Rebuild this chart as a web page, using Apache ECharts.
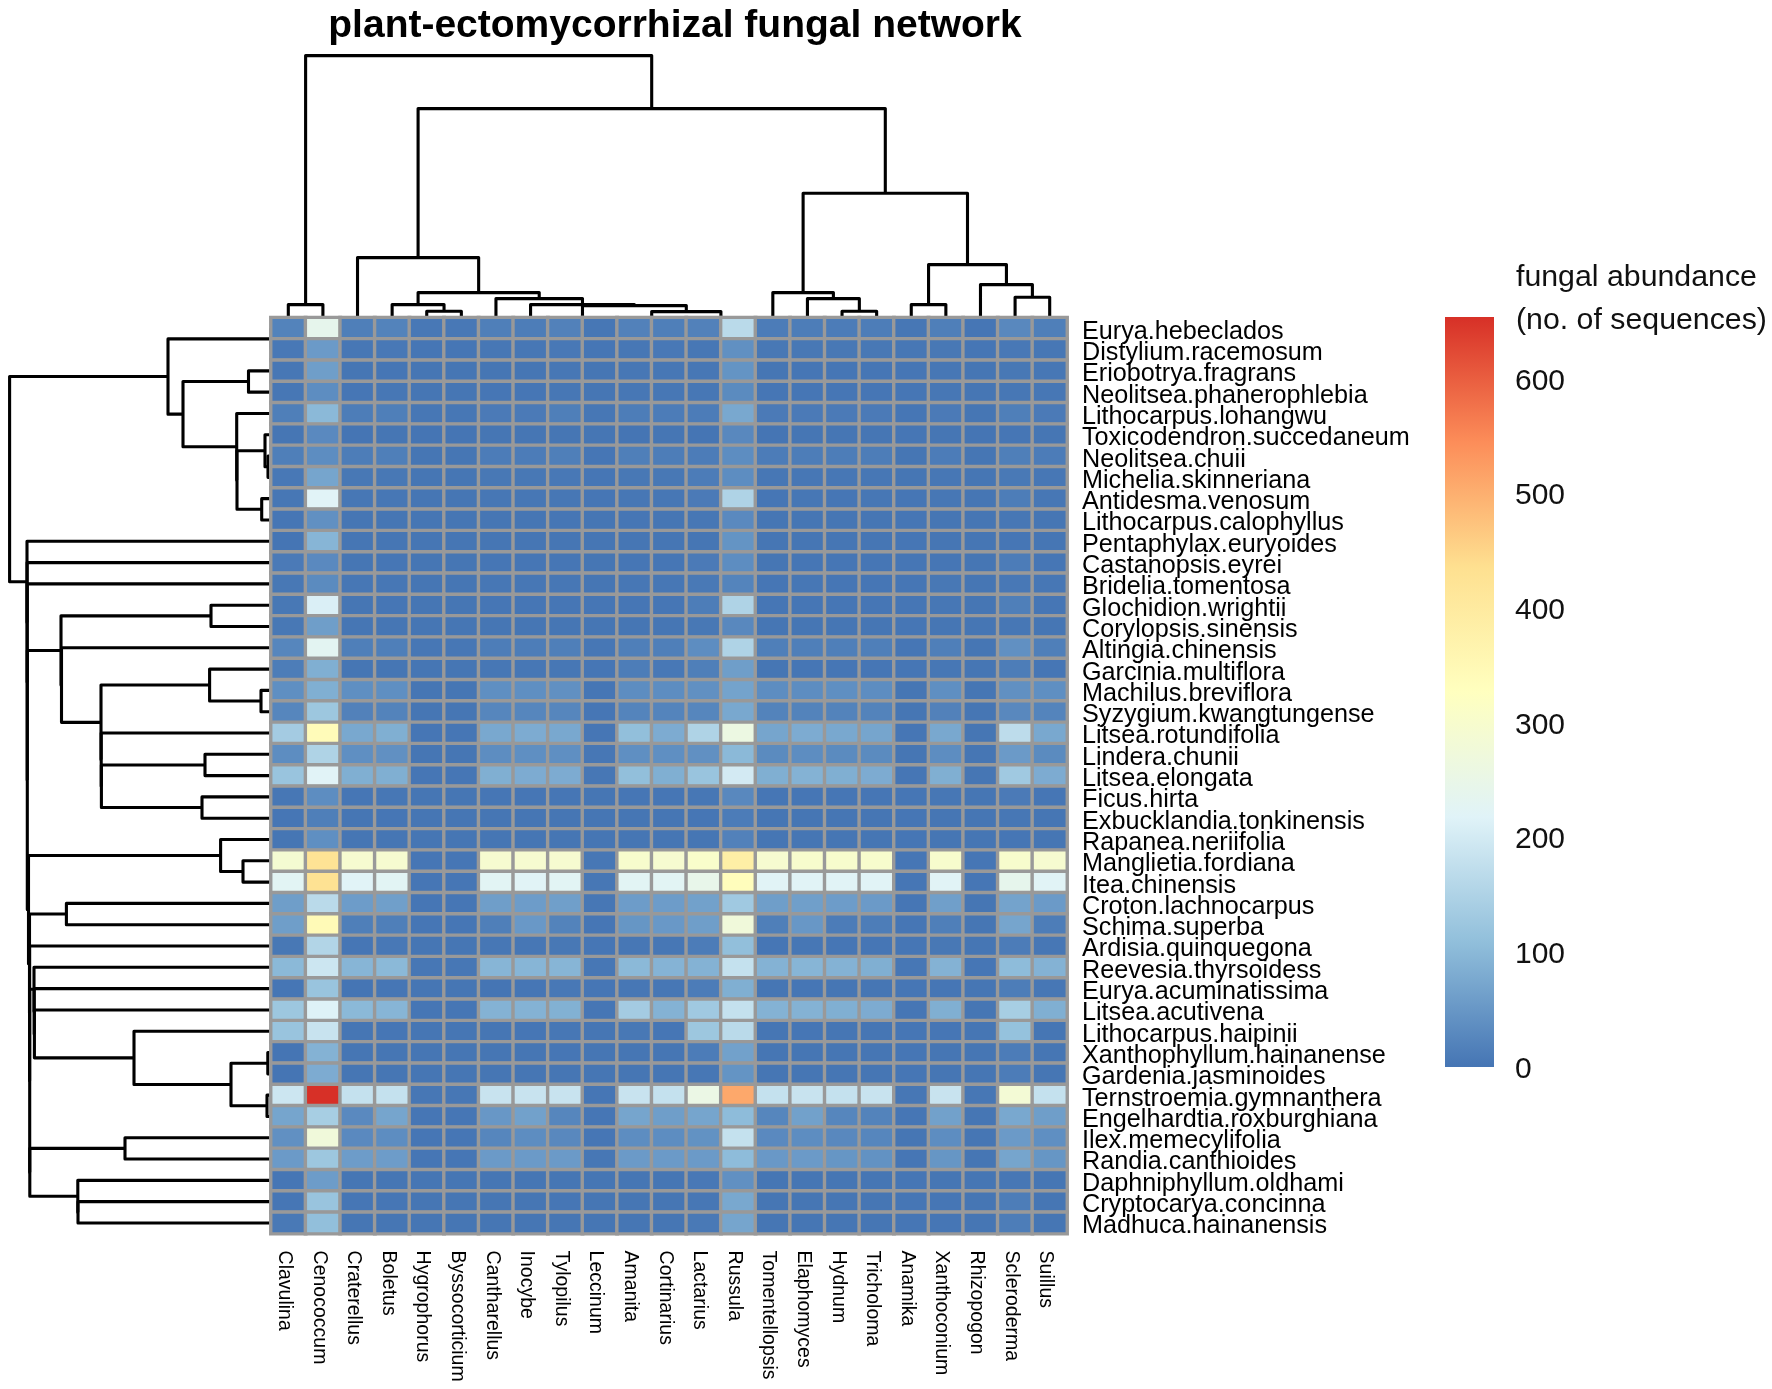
<!DOCTYPE html>
<html>
<head>
<meta charset="utf-8">
<title>plant-ectomycorrhizal fungal network</title>
<script src="https://cdn.jsdelivr.net/npm/echarts@6/dist/echarts.min.js"></script>
<style>
html, body { margin: 0; padding: 0; background: #fff; }
#chart { width: 1772px; height: 1389px; }
</style>
</head>
<body>
<div id="chart"></div>
<script>
var plantNames = ["Eurya.hebeclados", "Distylium.racemosum", "Eriobotrya.fragrans", "Neolitsea.phanerophlebia", "Lithocarpus.lohangwu",
    "Toxicodendron.succedaneum", "Neolitsea.chuii", "Michelia.skinneriana", "Antidesma.venosum", "Lithocarpus.calophyllus",
    "Pentaphylax.euryoides", "Castanopsis.eyrei", "Bridelia.tomentosa", "Glochidion.wrightii", "Corylopsis.sinensis",
    "Altingia.chinensis", "Garcinia.multiflora", "Machilus.breviflora", "Syzygium.kwangtungense", "Litsea.rotundifolia",
    "Lindera.chunii", "Litsea.elongata", "Ficus.hirta", "Exbucklandia.tonkinensis", "Rapanea.neriifolia",
    "Manglietia.fordiana", "Itea.chinensis", "Croton.lachnocarpus", "Schima.superba", "Ardisia.quinquegona",
    "Reevesia.thyrsoidess", "Eurya.acuminatissima", "Litsea.acutivena", "Lithocarpus.haipinii", "Xanthophyllum.hainanense",
    "Gardenia.jasminoides", "Ternstroemia.gymnanthera", "Engelhardtia.roxburghiana", "Ilex.memecylifolia", "Randia.canthioides",
    "Daphniphyllum.oldhami", "Cryptocarya.concinna", "Madhuca.hainanensis"];

var fungusNames = ["Clavulina", "Cenococcum", "Craterellus", "Boletus", "Hygrophorus", "Byssocorticium", "Cantharellus", "Inocybe",
    "Tylopilus", "Leccinum", "Amanita", "Cortinarius", "Lactarius", "Russula", "Tomentellopsis", "Elaphomyces", "Hydnum",
    "Tricholoma", "Anamika", "Xanthoconium", "Rhizopogon", "Scleroderma", "Suillus"];

// 每行一个植物，列顺序同 fungusNames
var abundance = [
    [20, 240, 15, 20, 5, 5, 14, 12, 18, 3, 18, 14, 18, 165, 10, 12, 10, 12, 3, 15, 2, 28, 14],
    [5, 55, 3, 5, 2, 2, 3, 3, 5, 2, 3, 5, 3, 40, 4, 4, 4, 4, 3, 4, 2, 5, 3],
    [3, 60, 1, 2, 1, 1, 1, 1, 3, 1, 3, 3, 3, 45, 1, 2, 2, 2, 2, 3, 1, 4, 3],
    [3, 35, 2, 3, 1, 1, 2, 2, 3, 1, 3, 3, 3, 32, 2, 2, 2, 2, 2, 3, 1, 3, 3],
    [14, 100, 12, 14, 3, 3, 8, 8, 15, 3, 12, 10, 10, 75, 8, 8, 8, 8, 2, 8, 1, 14, 8],
    [1, 30, 0, 1, 0, 0, 1, 1, 1, 1, 0, 1, 0, 28, 0, 1, 1, 1, 2, 1, 0, 2, 1],
    [15, 35, 12, 14, 1, 1, 10, 10, 14, 2, 14, 12, 10, 35, 10, 12, 12, 12, 1, 10, 1, 14, 10],
    [5, 70, 4, 4, 1, 1, 4, 4, 5, 2, 4, 4, 10, 35, 3, 3, 3, 3, 1, 3, 1, 6, 3],
    [3, 220, 3, 3, 1, 1, 3, 3, 3, 2, 3, 3, 8, 150, 2, 3, 2, 3, 2, 3, 1, 12, 3],
    [2, 40, 1, 1, 1, 1, 1, 1, 2, 1, 2, 1, 3, 30, 1, 1, 1, 1, 2, 1, 1, 3, 1],
    [0, 95, 1, 1, 1, 1, 1, 1, 1, 1, 1, 1, 1, 45, 1, 1, 1, 1, 2, 1, 1, 2, 1],
    [8, 30, 1, 2, 1, 1, 2, 2, 2, 1, 2, 2, 8, 35, 1, 2, 2, 2, 2, 2, 1, 10, 2],
    [4, 32, 3, 3, 1, 1, 3, 3, 3, 1, 3, 3, 6, 22, 2, 3, 2, 2, 2, 4, 1, 5, 3],
    [4, 210, 1, 2, 1, 1, 2, 2, 2, 2, 2, 2, 12, 150, 2, 2, 2, 2, 2, 3, 1, 15, 2],
    [4, 60, 1, 1, 1, 1, 1, 1, 1, 1, 1, 1, 4, 28, 1, 1, 1, 1, 2, 1, 1, 3, 1],
    [25, 230, 15, 15, 3, 3, 12, 12, 14, 3, 14, 14, 35, 150, 15, 14, 14, 14, 2, 14, 1, 40, 14],
    [12, 85, 1, 1, 1, 1, 3, 3, 3, 2, 12, 5, 14, 60, 1, 2, 2, 2, 2, 3, 1, 12, 2],
    [38, 85, 38, 38, 1, 1, 38, 38, 40, 2, 35, 35, 40, 68, 35, 35, 38, 35, 1, 38, 1, 40, 38],
    [25, 125, 18, 20, 1, 1, 25, 25, 25, 2, 22, 22, 25, 75, 20, 20, 20, 20, 1, 18, 1, 28, 22],
    [135, 340, 75, 85, 2, 2, 75, 80, 75, 2, 110, 80, 150, 260, 70, 80, 75, 70, 2, 75, 1, 170, 75],
    [35, 150, 38, 40, 1, 1, 35, 38, 38, 3, 38, 38, 40, 100, 32, 35, 32, 32, 1, 35, 1, 55, 32],
    [120, 220, 85, 85, 2, 2, 85, 80, 80, 3, 110, 85, 120, 200, 85, 90, 85, 80, 2, 85, 1, 130, 80],
    [3, 35, 2, 3, 1, 1, 2, 2, 2, 1, 2, 2, 3, 28, 2, 2, 2, 2, 2, 3, 1, 8, 2],
    [2, 15, 1, 2, 1, 1, 1, 1, 1, 1, 1, 1, 2, 10, 1, 1, 1, 1, 2, 1, 1, 3, 1],
    [1, 38, 1, 1, 1, 1, 1, 1, 1, 1, 1, 1, 1, 18, 1, 1, 1, 1, 2, 1, 1, 2, 1],
    [290, 425, 295, 295, 2, 2, 295, 295, 295, 3, 300, 295, 305, 385, 295, 300, 300, 300, 2, 300, 2, 300, 295],
    [225, 430, 220, 225, 2, 2, 225, 222, 225, 3, 225, 225, 245, 335, 222, 222, 222, 222, 2, 222, 2, 240, 222],
    [60, 165, 58, 62, 2, 2, 60, 58, 62, 3, 58, 58, 65, 130, 60, 62, 58, 55, 2, 62, 1, 68, 55],
    [60, 345, 15, 15, 2, 2, 15, 52, 20, 2, 48, 52, 60, 275, 15, 50, 10, 12, 2, 15, 1, 70, 12],
    [4, 155, 2, 5, 1, 1, 3, 3, 4, 2, 3, 3, 10, 110, 2, 3, 2, 2, 2, 4, 1, 10, 3],
    [100, 190, 95, 100, 3, 3, 95, 95, 95, 3, 100, 92, 90, 180, 90, 95, 90, 85, 3, 90, 2, 105, 90],
    [2, 120, 0, 2, 1, 1, 0, 2, 5, 2, 3, 3, 10, 85, 1, 2, 1, 1, 2, 2, 1, 12, 3],
    [125, 215, 100, 95, 2, 2, 90, 90, 88, 2, 135, 90, 130, 180, 90, 90, 85, 80, 2, 85, 1, 140, 85],
    [120, 185, 1, 2, 1, 1, 1, 2, 3, 1, 4, 2, 125, 165, 1, 2, 1, 1, 2, 2, 1, 115, 1],
    [0, 90, 1, 1, 1, 1, 1, 1, 2, 1, 1, 1, 10, 65, 1, 1, 1, 1, 2, 1, 1, 10, 1],
    [0, 80, 1, 1, 1, 1, 1, 1, 1, 1, 1, 1, 3, 45, 1, 1, 1, 1, 2, 1, 1, 10, 1],
    [190, 654, 180, 180, 3, 3, 185, 185, 185, 2, 185, 180, 255, 510, 180, 185, 180, 185, 3, 185, 3, 285, 180],
    [70, 140, 30, 70, 2, 2, 50, 65, 25, 2, 70, 60, 70, 105, 25, 65, 25, 20, 2, 65, 1, 75, 60],
    [40, 275, 30, 35, 2, 2, 25, 35, 28, 2, 35, 35, 42, 180, 30, 35, 28, 25, 1, 35, 1, 55, 38],
    [55, 125, 58, 58, 2, 2, 55, 55, 55, 3, 55, 55, 55, 105, 52, 55, 48, 42, 2, 48, 1, 70, 48],
    [2, 58, 1, 1, 1, 1, 1, 1, 1, 1, 1, 1, 5, 40, 1, 1, 1, 1, 2, 1, 1, 3, 1],
    [2, 120, 2, 2, 1, 1, 1, 1, 2, 1, 1, 1, 3, 75, 1, 1, 1, 1, 2, 2, 1, 12, 1],
    [6, 110, 1, 1, 1, 1, 1, 1, 1, 1, 1, 1, 6, 70, 1, 1, 1, 1, 2, 2, 1, 12, 1]
];

// 聚类树：[合并高度, 左子, 右子]，数字是叶子序号
var plantTree = [261.4,
    [103, [0, 0, 1],
        [88, [22.5, 2, 3],
            [34.3, 4, [34, [6, 5, [3, 6, 7]], [9.3, 8, 9]]]]],
    [244, 10, [243.9, 11, [243.8, 12, [243.7,
        [210, [60, 13, 14], [209.5, 15, [170, [61.4, 16, [10, 17, 18]],
            [169.8, 19, [169.6, [66, 20, 21], [69, 22, 23]]]]]],
        [242.5, [50.4, 24, [28, 25, 26]],
            [241.5, [204.6, 27, 28], [241.4, 29,
                [241.3, [237, 30, [236.8, 31, [236.6, 32,
                    [137, 33, [40, [3.2, 34, 35], [4, 36, 37]]]]]],
                    [241.2, [146, 38, 39], [193.2, 40, [193, 41, 42]]]]]]]]]]]
];

var fungusTree = [262,
    [13, 0, 1],
    [209,
        [60, 2, [25, [13, 3, [6.3, 4, 5]],
            [19, 6, [13, 7, [12, [0, 8, 9], [6, [0, 10, 11], [0, 12, 13]]]]]]],
        [124.3,
            [25, 14, [19, 15, [6.3, 16, 17]]],
            [53, [13, 18, 19], [33, 20, [20.3, 21, 22]]]]]
];

var colorStops = ["#4575B4", "#91BFDB", "#E0F3F8", "#FFFFBF", "#FEE090", "#FC8D59", "#D73027"];
var scaleMax = 654;
var scaleStep = 100;

var fontName = '"Liberation Sans", Arial, sans-serif';

// 把树拍平成连线 [左子高度, 左子位置, 合并高度, 右子位置, 右子高度]
function flattenTree(node, links) {
    if (typeof node === "number") {
        return { pos: node + 0.5, height: 0 };
    }
    var a = flattenTree(node[1], links);
    var b = flattenTree(node[2], links);
    links.push([a.height, a.pos, node[0], b.pos, b.height]);
    return { pos: (a.pos + b.pos) / 2, height: node[0] };
}

var plantLinks = [];
flattenTree(plantTree, plantLinks);
var fungusLinks = [];
flattenTree(fungusTree, fungusLinks);

var cells = [];
abundance.forEach(function (row, r) {
    row.forEach(function (v, c) {
        cells.push([c, r, v]);
    });
});

function treeRenderer(horizontal) {
    return function (params, api) {
        var pt = function (h, p) {
            return api.coord(horizontal ? [p, h] : [h, p]);
        };
        return {
            type: "polyline",
            shape: {
                points: [
                    pt(api.value(0), api.value(1)),
                    pt(api.value(2), api.value(1)),
                    pt(api.value(2), api.value(3)),
                    pt(api.value(4), api.value(3))
                ]
            },
            style: { stroke: "#000", fill: null, lineWidth: 3.1, lineJoin: "round" }
        };
    };
}

// 色标：沿坐标轴从 0 到最大值画一条渐变
function renderColorBar(params, api) {
    var bottom = api.coord([0, api.value(0)]);
    var top = api.coord([1, api.value(1)]);
    var gradient = colorStops.map(function (c, i) {
        return { offset: 1 - i / (colorStops.length - 1), color: c };
    }).reverse();
    return {
        type: "rect",
        shape: { x: bottom[0], y: top[1], width: top[0] - bottom[0], height: bottom[1] - top[1] },
        style: { fill: new echarts.graphic.LinearGradient(0, 0, 0, 1, gradient) }
    };
}

var hiddenValue = function (gridIndex, min, max, inverse) {
    return { type: "value", gridIndex: gridIndex, min: min, max: max, inverse: !!inverse, show: false };
};

var myChart = echarts.init(document.getElementById("chart"), null, { renderer: "canvas" });
var option = {
    animation: false,
    backgroundColor: "#fff",
    textStyle: { fontFamily: fontName },
    title: [
        {
            text: "plant-ectomycorrhizal fungal network",
            left: 675,
            top: 7,
            textAlign: "center",
            padding: 0,
            textStyle: { fontFamily: fontName, fontSize: 39, fontWeight: "bold", color: "#000" }
        },
        {
            text: "fungal abundance\n(no. of sequences)",
            left: 1516,
            top: 256,
            padding: 0,
            textStyle: { fontFamily: fontName, fontSize: 30.3, fontWeight: "normal", color: "#111", lineHeight: 43 }
        }
    ],
    grid: [
        { left: 271, top: 317.6, width: 796, height: 916 },
        { left: 271, top: 37.6, width: 796, height: 280 },
        { left: 0, top: 317.6, width: 271, height: 916 },
        { left: 1445, top: 317, width: 49, height: 750 }
    ],
    xAxis: [
        {
            type: "category",
            gridIndex: 0,
            data: fungusNames,
            position: "bottom",
            axisLine: { show: false },
            axisTick: { show: false },
            splitLine: { show: false },
            axisLabel: {
                interval: 0,
                rotate: -90,
                margin: 17,
                // 文字整体比列中心偏左一点
                verticalAlign: "top",
                lineHeight: 8,
                fontSize: 19.5,
                fontFamily: fontName,
                color: "#000"
            }
        },
        hiddenValue(1, 0, fungusNames.length),
        hiddenValue(2, 0, 271, true),
        hiddenValue(3, 0, 1)
    ],
    yAxis: [
        {
            type: "category",
            gridIndex: 0,
            data: plantNames,
            inverse: true,
            position: "right",
            axisLine: { show: false },
            axisTick: { show: false },
            splitLine: { show: false },
            axisLabel: {
                interval: 0,
                margin: 15,
                // 标签比行中心略低
                verticalAlign: "top",
                lineHeight: 7,
                fontSize: 25.2,
                fontFamily: fontName,
                color: "#000"
            }
        },
        hiddenValue(1, 0, 280),
        hiddenValue(2, 0, plantNames.length, true),
        {
            type: "value",
            gridIndex: 3,
            min: 0,
            max: scaleMax,
            interval: scaleStep,
            position: "right",
            axisLine: { show: false },
            axisTick: { show: false },
            splitLine: { show: false },
            axisLabel: {
                showMaxLabel: false,
                margin: 21,
                verticalAlign: "top",
                lineHeight: 5,
                fontSize: 30,
                fontFamily: fontName,
                color: "#111"
            }
        }
    ],
    visualMap: {
        type: "continuous",
        show: false,
        seriesIndex: 0,
        dimension: 2,
        min: 0,
        max: scaleMax,
        inRange: { color: colorStops }
    },
    series: [
        {
            type: "heatmap",
            xAxisIndex: 0,
            yAxisIndex: 0,
            data: cells,
            z: 3,
            silent: true,
            itemStyle: { borderColor: "#999999", borderWidth: 3.4 }
        },
        {
            type: "custom",
            xAxisIndex: 1,
            yAxisIndex: 1,
            data: fungusLinks,
            z: 1,
            silent: true,
            clip: false,
            renderItem: treeRenderer(true)
        },
        {
            type: "custom",
            xAxisIndex: 2,
            yAxisIndex: 2,
            data: plantLinks,
            z: 1,
            silent: true,
            clip: false,
            renderItem: treeRenderer(false)
        },
        {
            type: "custom",
            xAxisIndex: 3,
            yAxisIndex: 3,
            data: [[0, scaleMax]],
            silent: true,
            clip: false,
            renderItem: renderColorBar
        }
    ]
};
myChart.setOption(option);
window.addEventListener("resize", function () {
    myChart.resize();
});
</script>
</body>
</html>
